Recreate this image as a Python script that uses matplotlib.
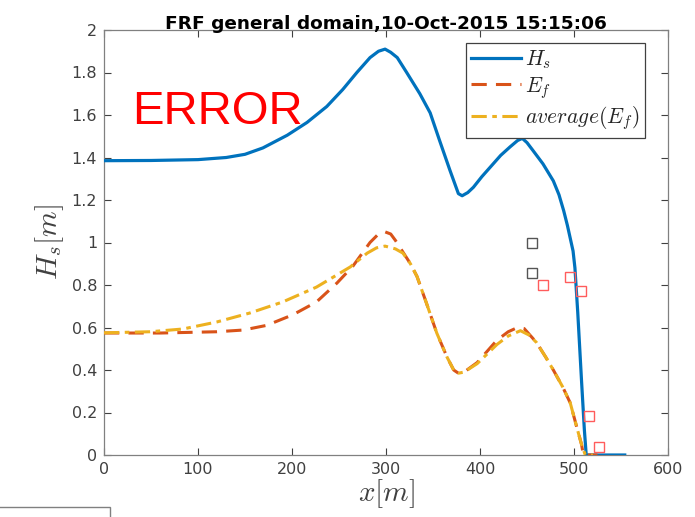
import matplotlib
matplotlib.use("Agg")
import matplotlib.pyplot as plt
from matplotlib.patches import Rectangle

plt.rcParams['mathtext.fontset'] = 'cm'
plt.rcParams['font.family'] = ['DejaVu Sans']

# Hs curve
hs_x = [0, 50, 100, 130, 150, 169, 195, 216, 237, 254, 269, 283, 292, 299, 305, 312, 322, 336,
        347, 357, 368, 377, 381, 387, 393, 402, 411, 422, 432, 440, 445, 450, 456, 467, 478,
        484, 489, 493, 496, 499, 501, 504, 508, 511, 513, 530, 554]
hs_y = [1.385, 1.386, 1.39, 1.40, 1.415, 1.445, 1.505, 1.565, 1.64, 1.72, 1.80, 1.87, 1.90, 1.91,
        1.895, 1.87, 1.80, 1.70, 1.61, 1.48, 1.34, 1.23, 1.22, 1.235, 1.26, 1.31, 1.355, 1.41,
        1.45, 1.48, 1.49, 1.47, 1.435, 1.37, 1.29, 1.225, 1.15, 1.08, 1.02, 0.96, 0.88, 0.67,
        0.35, 0.12, 0.0, 0.0, 0.0]

# Ef curve
ef_x = [0, 60, 120, 148, 173, 201, 226, 248, 265, 283, 292, 299, 305, 310, 318, 326, 333, 343,
        354, 365, 372, 377, 383, 397, 418, 430, 440, 447, 460, 470, 478, 488, 496, 503, 508,
        510, 525]
ef_y = [0.574, 0.574, 0.58, 0.588, 0.61, 0.66, 0.72, 0.81, 0.89, 1.0, 1.04, 1.05, 1.04, 1.01,
        0.955, 0.90, 0.84, 0.715, 0.574, 0.46, 0.40, 0.385, 0.39, 0.435, 0.54, 0.58, 0.60,
        0.595, 0.53, 0.46, 0.40, 0.32, 0.245, 0.13, 0.05, 0.0, 0.0]

# average(Ef) curve
av_x = [0, 49, 84, 120, 155, 190, 226, 262, 280, 290, 299, 310, 318, 326, 333, 343, 354, 365,
        372, 377, 383, 397, 418, 430, 443, 452, 460, 470, 478, 488, 496, 503, 508, 512, 520]
av_y = [0.575, 0.58, 0.593, 0.626, 0.668, 0.72, 0.79, 0.885, 0.95, 0.975, 0.983, 0.97, 0.95,
        0.90, 0.84, 0.715, 0.574, 0.46, 0.40, 0.385, 0.39, 0.43, 0.52, 0.56, 0.585, 0.565,
        0.53, 0.46, 0.40, 0.32, 0.245, 0.13, 0.05, 0.0, 0.0]

# observations
obs_gray_x = [455, 455]
obs_gray_y = [1.00, 0.855]
obs_red_x = [467, 496, 507, 516, 527]
obs_red_y = [0.80, 0.84, 0.77, 0.185, 0.04]

x_ticks = [0, 100, 200, 300, 400, 500, 600]
y_ticks = [0, 0.2, 0.4, 0.6, 0.8, 1.0, 1.2, 1.4, 1.6, 1.8, 2.0]
y_tick_labels = ['0', '0.2', '0.4', '0.6', '0.8', '1', '1.2', '1.4', '1.6', '1.8', '2']

fig = plt.figure(figsize=(6.95, 5.17), dpi=100)
ax = fig.add_axes([104/695, 62/517, 564/695, 425/517])

ax.plot(hs_x, hs_y, color='#0072BD', lw=2.3, label='$H_s$', zorder=3)
ax.plot(ef_x, ef_y, color='#D95319', lw=2.2, dashes=(5, 3), label='$E_f$', zorder=4)
ax.plot(av_x, av_y, color='#EDB120', lw=2.2, dashes=(5, 1.8, 1.5, 1.8),
        label='$average(E_f)$', zorder=5)
ax.plot(obs_gray_x, obs_gray_y, 's', mfc='none', mec='#555555', ms=7, mew=1.0, zorder=6)
ax.plot(obs_red_x, obs_red_y, 's', mfc='none', mec='#ff5c5c', ms=7, mew=1.0, zorder=6)

ax.set_xlim(0, 600)
ax.set_ylim(0, 2)
ax.set_xticks(x_ticks)
ax.set_yticks(y_ticks)
ax.set_yticklabels(y_tick_labels)
ax.tick_params(direction='in', length=5, width=0.8, colors='#404040', labelsize=11.5,
               top=True, right=True, pad=5)
for s in ax.spines.values():
    s.set_color('#808080')
    s.set_linewidth(0.9)

ax.set_xlabel('$x[m]$', fontsize=21, color='#404040', labelpad=0)
ax.set_ylabel('$H_s[m]$', fontsize=21, color='#404040', labelpad=4)
ax.set_title('FRF general domain,10-Oct-2015 15:15:06', fontsize=13.3, fontweight='bold',
             color='black', pad=0.5)

ax.text(0.05, 0.78, 'ERROR', transform=ax.transAxes, color='red', fontsize=34,
        family='Liberation Sans', va='baseline', ha='left')

leg = ax.legend(loc='upper right', bbox_to_anchor=(0.959, 0.97), fontsize=15.5,
                handlelength=2.3, handletextpad=0.2, labelspacing=0.18, borderpad=0.25,
                borderaxespad=0, fancybox=False, framealpha=1, edgecolor='#404040')
leg.get_frame().set_linewidth(0.9)
for t in leg.get_texts():
    t.set_color('#262626')

fig.add_artist(Rectangle((-0.01, -0.01), 110/695 + 0.01, (517 - 507)/517 + 0.01,
                         transform=fig.transFigure, facecolor='white', edgecolor='#808080',
                         linewidth=1.0))

fig.savefig('out.png', dpi=100)
